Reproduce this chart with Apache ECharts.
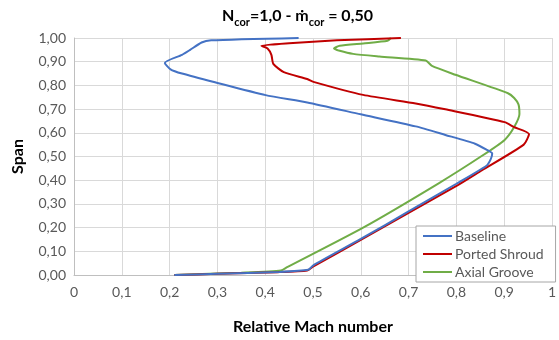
<!DOCTYPE html>
<html>
<head>
<meta charset="utf-8">
<script src="https://cdn.jsdelivr.net/npm/echarts@6/dist/echarts.min.js"></script>
<style>
  html, body { margin: 0; padding: 0; background: #fff; }
  #chart { width: 559px; height: 340px; }
</style>
</head>
<body>
<div id="chart"></div>
<script>
// Relative Mach number (x) against span (y)
var seriesNames = ['Baseline', 'Ported Shroud', 'Axial Groove'];

var baselineMach = [0.47, 0.287, 0.267, 0.243, 0.226, 0.19, 0.202, 0.226, 0.295, 0.401, 0.488, 0.60, 0.715, 0.777, 0.839, 0.863, 0.875, 0.872, 0.863, 0.80, 0.70, 0.60, 0.50, 0.49, 0.43, 0.30, 0.21];
var baselineSpan = [1.00, 0.99, 0.981, 0.95, 0.929, 0.895, 0.868, 0.85, 0.813, 0.759, 0.728, 0.678, 0.627, 0.591, 0.554, 0.529, 0.513, 0.489, 0.461, 0.385, 0.268, 0.152, 0.04, 0.022, 0.013, 0.005, 0.0];

var portedMach = [0.684, 0.55, 0.45, 0.392, 0.405, 0.413, 0.417, 0.439, 0.488, 0.501, 0.605, 0.715, 0.777, 0.901, 0.921, 0.952, 0.941, 0.853, 0.804, 0.70, 0.60, 0.50, 0.488, 0.426, 0.30, 0.21];
var portedSpan = [1.00, 0.99, 0.978, 0.967, 0.956, 0.929, 0.891, 0.856, 0.827, 0.815, 0.76, 0.724, 0.699, 0.645, 0.624, 0.595, 0.55, 0.441, 0.38, 0.262, 0.148, 0.035, 0.019, 0.012, 0.005, 0.0];

var grooveMach = [0.663, 0.656, 0.605, 0.556, 0.544, 0.556, 0.584, 0.639, 0.736, 0.749, 0.798, 0.908, 0.921, 0.930, 0.932, 0.921, 0.901, 0.853, 0.763, 0.605, 0.446, 0.433, 0.35, 0.21];
var grooveSpan = [1.00, 0.988, 0.977, 0.967, 0.956, 0.946, 0.933, 0.922, 0.905, 0.882, 0.845, 0.767, 0.747, 0.72, 0.679, 0.624, 0.57, 0.502, 0.387, 0.20, 0.033, 0.019, 0.01, 0.0];

var seriesColors = ['#4472C4', '#C00000', '#70AD47'];

function pairs(xs, ys) {
    return xs.map(function (x, i) { return [x, ys[i]]; });
}

var chart = echarts.init(document.getElementById('chart'));
var fontFamily = 'Lato, "DejaVu Sans", sans-serif';

var allData = [
    pairs(baselineMach, baselineSpan),
    pairs(portedMach, portedSpan),
    pairs(grooveMach, grooveSpan)
];

var option = {
    animation: false,
    backgroundColor: '#fff',
    textStyle: { fontFamily: fontFamily },
    title: {
        left: 217,
        top: 3,
        text: '{m|N}{s|cor}{m|=1,0 - ṁ}{s|cor}{m| = 0,50}',
        textStyle: {
            rich: {
                m: { fontSize: 16, fontWeight: 'bold', color: '#000', fontFamily: fontFamily, padding: [0, 0, 4, 0], verticalAlign: 'bottom' },
                s: { fontSize: 11, fontWeight: 'bold', color: '#000', fontFamily: fontFamily, verticalAlign: 'bottom' }
            }
        }
    },
    grid: { left: 74, right: 1, top: 38, bottom: 57, containLabel: false },
    xAxis: {
        type: 'value',
        min: 0,
        max: 1,
        interval: 0.1,
        name: 'Relative Mach number',
        nameLocation: 'middle',
        nameGap: 44,
        nameTextStyle: { fontSize: 16, fontWeight: 'bold', color: '#000' },
        axisLine: { show: true, lineStyle: { color: '#bfbfbf' } },
        axisTick: { show: false },
        splitLine: { show: true, lineStyle: { color: '#d9d9d9' } },
        axisLabel: {
            color: '#595959',
            fontSize: 14,
            margin: 10,
            formatter: function (v) {
                if (v === 0) return '0';
                if (v === 1) return '1';
                return v.toFixed(1).replace('.', ',');
            }
        }
    },
    yAxis: {
        type: 'value',
        min: 0,
        max: 1,
        interval: 0.1,
        name: 'Span',
        nameLocation: 'middle',
        nameGap: 48,
        nameTextStyle: { fontSize: 16, fontWeight: 'bold', color: '#000' },
        axisLine: { show: true, lineStyle: { color: '#bfbfbf' } },
        axisTick: { show: false },
        splitLine: { show: true, lineStyle: { color: '#d9d9d9' } },
        axisLabel: {
            color: '#595959',
            fontSize: 14,
            margin: 8,
            formatter: function (v) { return v.toFixed(2).replace('.', ','); }
        }
    },
    legend: {
        orient: 'vertical',
        left: 416,
        top: 226,
        width: 130,
        padding: [3, 12, 3, 7],
        itemGap: 4,
        itemWidth: 29,
        itemHeight: 2,
        icon: 'rect',
        backgroundColor: '#fff',
        borderColor: '#a6a6a6',
        borderWidth: 1,
        borderRadius: 0,
        textStyle: { color: '#595959', fontSize: 14, padding: [0, 0, 0, -2] },
        data: seriesNames
    },
    series: seriesNames.map(function (name, i) {
        return {
            name: name,
            type: 'line',
            data: allData[i],
            showSymbol: false,
            symbol: 'none',
            smooth: 0.2,
            color: seriesColors[i],
            lineStyle: { width: 2, color: seriesColors[i] },
            z: 3 - i
        };
    })
};

chart.setOption(option);
</script>
</body>
</html>
